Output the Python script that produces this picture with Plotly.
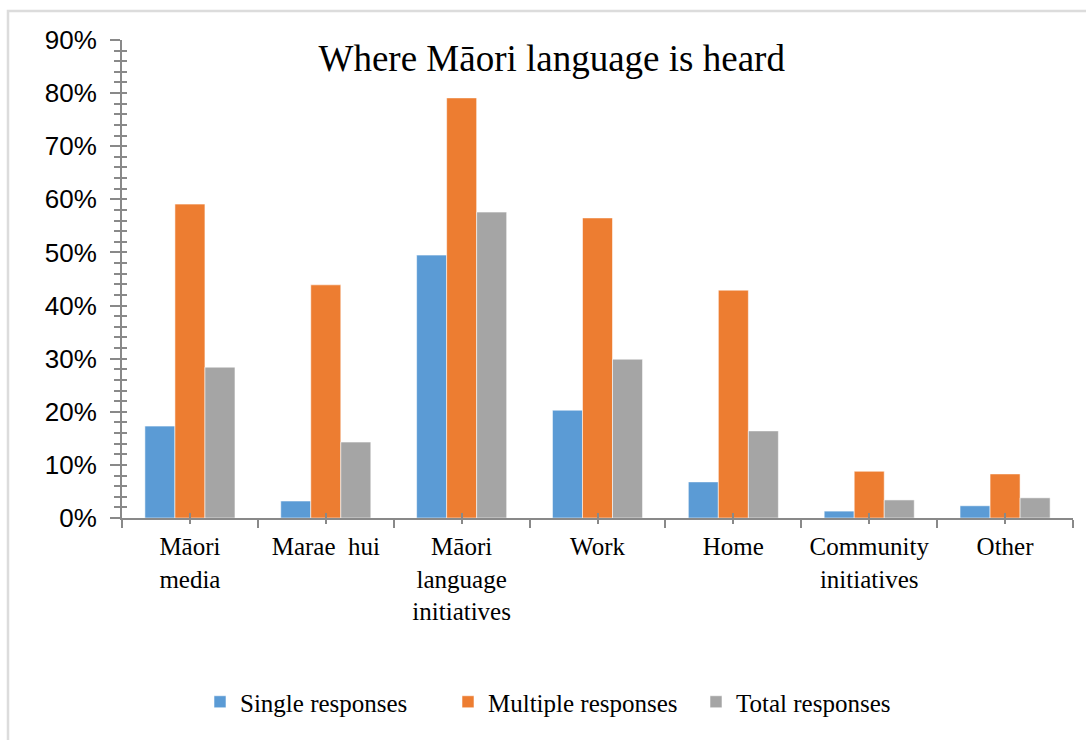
import plotly.graph_objects as go

# Survey results: where Māori language is heard
categories = ["Māori<br>media", "Marae  hui", "Māori<br>language<br>initiatives",
              "Work", "Home", "Community<br>initiatives", "Other"]
single = [0.173, 0.032, 0.495, 0.203, 0.068, 0.013, 0.023]
multiple = [0.591, 0.439, 0.791, 0.565, 0.429, 0.088, 0.083]
total = [0.284, 0.143, 0.576, 0.299, 0.164, 0.034, 0.038]

series = [
    ("Single responses", single, "#5B9BD5"),
    ("Multiple responses", multiple, "#ED7D31"),
    ("Total responses", total, "#A5A5A5"),
]

AXIS = "#898989"
SERIF = "Liberation Serif, Times New Roman, serif"
SANS = "Liberation Sans, Arial, sans-serif"

fig = go.Figure()
for name, vals, color in series:
    fig.add_trace(go.Bar(
        x=categories, y=vals, name=name,
        marker=dict(color=color, line=dict(color="rgba(255,255,255,0.55)", width=1)),
    ))

# empty helper traces so the overlaid tick-only axes get drawn
for xa in ("x2", "x3"):
    fig.add_trace(go.Scatter(x=[None], y=[None], xaxis=xa, yaxis="y2",
                             mode="markers", showlegend=False, hoverinfo="skip"))

n = len(categories)
centers = list(range(n))

fig.update_layout(
    width=1086, height=740,
    margin=dict(l=122, r=13, t=40, b=222),
    paper_bgcolor="white", plot_bgcolor="white",
    barmode="group", bargap=0.337, bargroupgap=0,
    title=dict(text="Where Māori language is heard",
               font=dict(family=SERIF, size=37, color="black"),
               x=0.508, xref="container", xanchor="center",
               y=1 - 58 / 740, yref="container", yanchor="middle"),
    xaxis=dict(
        type="category", range=[-0.5, n - 0.5],
        showline=True, linecolor=AXIS, linewidth=2,
        ticks="outside", tickson="boundaries", ticklen=8, tickwidth=2, tickcolor=AXIS,
        tickfont=dict(family=SERIF, size=25, color="black"),
        ticklabelstandoff=5,
        showgrid=False, zeroline=False,
    ),
    # short ticks crossing the axis at each category centre
    xaxis2=dict(overlaying="x", range=[-0.5, n - 0.5], tickvals=centers,
                ticks="inside", ticklen=5, tickwidth=2, tickcolor=AXIS,
                showticklabels=False, showline=False, showgrid=False,
                zeroline=False, side="bottom", anchor="y"),
    xaxis3=dict(overlaying="x", range=[-0.5, n - 0.5], tickvals=centers,
                ticks="outside", ticklen=5, tickwidth=2, tickcolor=AXIS,
                showticklabels=False, showline=False, showgrid=False,
                zeroline=False, side="bottom", anchor="y"),
    yaxis=dict(
        range=[0, 0.9], dtick=0.1, tick0=0, tickformat=".0%",
        showline=True, linecolor=AXIS, linewidth=2,
        ticks="outside", ticklen=10, tickwidth=2, tickcolor=AXIS,
        minor=dict(dtick=0.02, ticks="outside", ticklen=6, tickwidth=1.5,
                   tickcolor=AXIS, showgrid=False),
        tickfont=dict(family=SANS, size=26, color="black"),
        ticklabelstandoff=8,
        showgrid=False, zeroline=False,
    ),
    yaxis2=dict(overlaying="y", range=[0, 0.9], dtick=0.02, tick0=0,
                ticks="inside", ticklen=5, tickwidth=1.5, tickcolor=AXIS,
                showticklabels=False, showline=False, showgrid=False,
                zeroline=False, side="left", anchor="x"),
    legend=dict(orientation="h", x=572 / 1086, xref="container", xanchor="center",
                y=1 - 702 / 740, yref="container", yanchor="middle",
                font=dict(family=SERIF, size=25, color="black"),
                itemwidth=30, entrywidth=203, traceorder="normal"),
    showlegend=True,
    shapes=[dict(type="rect", xref="paper", yref="paper",
                 x0=(8 - 122) / 951, x1=(1092 - 122) / 951,
                 y0=(518 - 746) / 478, y1=(518 - 11) / 478,
                 line=dict(color="#dcdcdc", width=2.5), layer="below")],
)

fig.write_html("out.html")
